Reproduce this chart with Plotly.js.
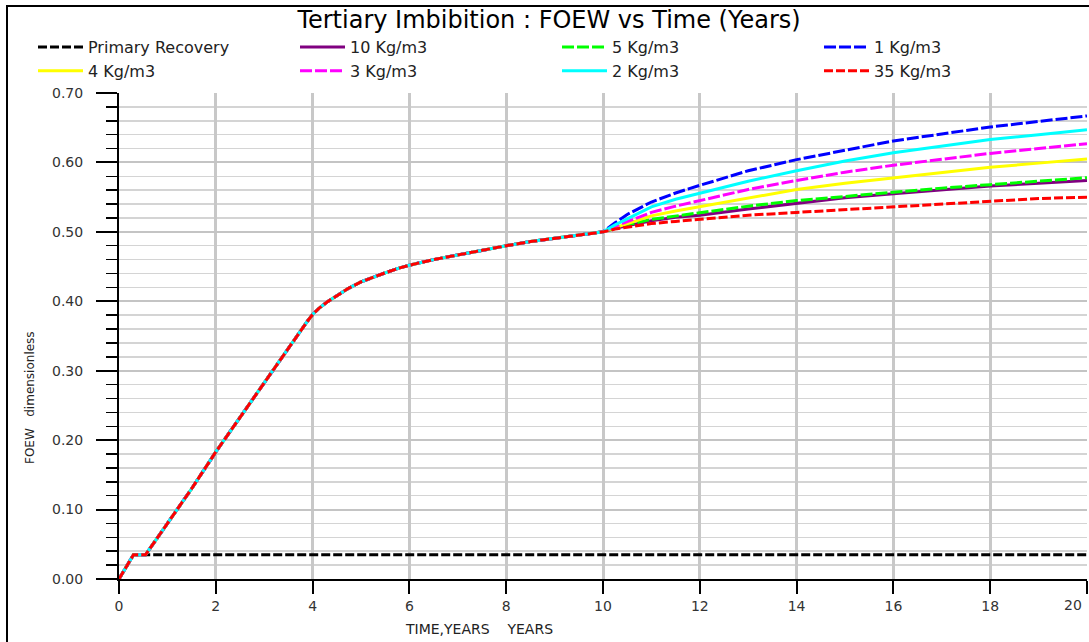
<!DOCTYPE html>
<html>
<head>
<meta charset="utf-8">
<script src="https://cdn.plot.ly/plotly-3.0.1.min.js"></script>
<style>
html,body{margin:0;padding:0;background:#fff;}
#chart{width:1089px;height:642px;}
#frame{position:absolute;left:6px;top:5px;width:1083px;height:637px;border-left:2px solid #000;border-top:2px solid #000;pointer-events:none;}
</style>
</head>
<body>
<div id="chart"></div>
<div id="frame"></div>
<script>
// ---- data ----
var seriesNames = ["Primary Recovery","10 Kg/m3","5 Kg/m3","1 Kg/m3","4 Kg/m3","3 Kg/m3","2 Kg/m3","35 Kg/m3"];

var primaryTime  = [0, 0.3, 20];
var primaryFOEW  = [0, 0.035, 0.035];

// common history shared by every polymer case up to year 10
var baseTime = [0, 0.3, 0.55, 1, 1.5, 2, 2.5, 3, 3.5, 3.65, 3.8, 3.9, 4, 4.15, 4.3, 4.5, 4.75, 5, 5.25, 5.5, 5.75, 6, 6.5, 7, 7.5, 8, 8.5, 9, 9.5, 10];
var baseFOEW = [0, 0.035, 0.035, 0.080, 0.130, 0.183, 0.233, 0.283, 0.333, 0.347, 0.362, 0.372, 0.381, 0.391, 0.399, 0.408, 0.419, 0.428, 0.435, 0.441, 0.447, 0.452, 0.460, 0.467, 0.474, 0.480, 0.486, 0.491, 0.496, 0.500];

// after year 10 the cases separate
var tailTime  = [10.25, 10.5, 11, 11.5, 12, 13, 14, 15, 16, 17, 18, 19, 20];
var foew10kg  = [0.505, 0.509, 0.516, 0.521, 0.524, 0.533, 0.541, 0.549, 0.555, 0.561, 0.566, 0.570, 0.574];
var foew5kg   = [0.505, 0.510, 0.518, 0.523, 0.527, 0.537, 0.545, 0.551, 0.558, 0.563, 0.568, 0.573, 0.578];
var foew1kg   = [0.513, 0.525, 0.543, 0.556, 0.567, 0.588, 0.604, 0.618, 0.631, 0.641, 0.651, 0.659, 0.667];
var foew4kg   = [0.506, 0.512, 0.523, 0.530, 0.536, 0.549, 0.561, 0.570, 0.578, 0.586, 0.593, 0.599, 0.605];
var foew3kg   = [0.508, 0.515, 0.528, 0.537, 0.545, 0.561, 0.574, 0.586, 0.596, 0.605, 0.613, 0.620, 0.627];
var foew2kg   = [0.510, 0.519, 0.536, 0.547, 0.556, 0.573, 0.588, 0.602, 0.614, 0.624, 0.633, 0.640, 0.647];
var foew35kg  = [0.504, 0.507, 0.512, 0.515, 0.518, 0.524, 0.528, 0.532, 0.537, 0.541, 0.545, 0.548, 0.550];

var xTickVals = [0, 2, 4, 6, 8, 10, 12, 14, 16, 18, 20];
var xTickText = ["0","2","4","6","8","10","12","14","16","18",""];
var xLastTickLabel = "20";
var yTickVals = [0, 0.1, 0.2, 0.3, 0.4, 0.5, 0.6, 0.7];
var yTickText = ["0.00","0.10","0.20","0.30","0.40","0.50","0.60","0.70"];

// ---- styles ----
var styles = [
  {color:"#000000", dash:"9px,3px"},
  {color:"#800080", dash:"solid"},
  {color:"#00ff00", dash:"12px,3px"},
  {color:"#0000ff", dash:"12px,3px"},
  {color:"#ffff00", dash:"solid"},
  {color:"#ff00ff", dash:"12px,3px"},
  {color:"#00ffff", dash:"solid"},
  {color:"#ff0000", dash:"9px,3px"}
];

var tails = [null, foew10kg, foew5kg, foew1kg, foew4kg, foew3kg, foew2kg, foew35kg];

var traces = seriesNames.map(function(name, i){
  var x, y;
  if(i === 0){ x = primaryTime; y = primaryFOEW; }
  else { x = baseTime.concat(tailTime); y = baseFOEW.concat(tails[i]); }
  return {
    type:"scatter", mode:"lines", name:name, x:x, y:y,
    line:{color:styles[i].color, width:3, dash:styles[i].dash},
    hoverinfo:"skip"
  };
});

var L = 119, R = 1087, T = 93, B = 579, W = 1089, H = 642;
function px(p){ return (p - L) / (R - L); }
function py(p){ return (B - p) / (B - T); }

var layout = {
  width:W, height:H,
  margin:{l:L, r:W-R, t:T, b:H-B, pad:0},
  paper_bgcolor:"#ffffff", plot_bgcolor:"#ffffff",
  font:{family:"DejaVu Sans, sans-serif", color:"#222"},
  title:{text:"Tertiary Imbibition : FOEW vs Time (Years)", x:549/W, xanchor:"center", y:1-20/H, yanchor:"middle",
         font:{family:"DejaVu Sans, sans-serif", size:24, color:"#000"}},
  showlegend:true,
  legend:{orientation:"h", x:px(33), xanchor:"left", y:py(30), yanchor:"top",
          font:{family:"DejaVu Sans, sans-serif", size:16, color:"#222"},
          itemwidth:45, entrywidth:202, entrywidthmode:"pixels", bgcolor:"rgba(0,0,0,0)", traceorder:"normal"},
  xaxis:{range:[0,20], tickvals:xTickVals, ticktext:xTickText, ticks:"outside", ticklen:13, tickwidth:2, tickcolor:"#000",
         showline:true, linecolor:"#000", linewidth:2, zeroline:false,
         showgrid:true, gridcolor:"#c8c8c8", gridwidth:3,
         tickfont:{family:"DejaVu Sans, sans-serif", size:14, color:"#333"}, fixedrange:true},
  yaxis:{range:[0,0.7], tickvals:yTickVals, ticktext:yTickText, ticks:"outside", ticklen:21, tickwidth:2, tickcolor:"#000",
         showline:true, linecolor:"#000", linewidth:2, zeroline:false,
         showgrid:true, gridcolor:"#c4c4c4", gridwidth:2, ticklabelstandoff:10,
         minor:{dtick:0.02, ticks:"outside", ticklen:11, tickwidth:1.5, tickcolor:"#000", showgrid:true, gridcolor:"#d4d4d4", gridwidth:1.5},
         tickfont:{family:"DejaVu Sans, sans-serif", size:14, color:"#333"}, fixedrange:true},
  annotations:[
    {text:"FOEW&nbsp;&nbsp;&nbsp;dimensionless", xref:"paper", yref:"paper", x:px(30), y:py(398), textangle:-90,
     showarrow:false, xanchor:"center", yanchor:"middle", font:{family:"DejaVu Sans, sans-serif", size:12, color:"#222"}},
    {text:"TIME,YEARS&nbsp;&nbsp;&nbsp;&nbsp;YEARS", xref:"paper", yref:"paper", x:px(479), y:py(629),
     showarrow:false, xanchor:"center", yanchor:"middle", font:{family:"DejaVu Sans, sans-serif", size:14, color:"#222"}},
    {text:xLastTickLabel, xref:"x", yref:"paper", x:xTickVals[xTickVals.length-1], y:py(605), xshift:-3,
     showarrow:false, xanchor:"right", yanchor:"middle", font:{family:"DejaVu Sans, sans-serif", size:14, color:"#333"}}
  ]
};

Plotly.newPlot("chart", traces, layout, {displayModeBar:false, staticPlot:true});
</script>
</body>
</html>
